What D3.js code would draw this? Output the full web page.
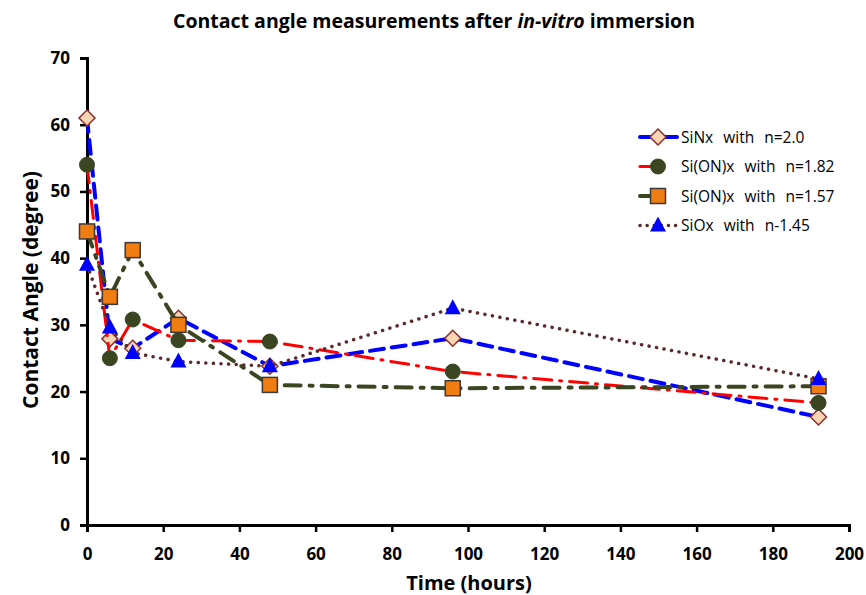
<!DOCTYPE html>
<html lang="en">
<head>
<meta charset="UTF-8">
<title>Contact angle</title>
<script src="https://d3js.org/d3.v7.min.js"></script>
<style>
  body { margin: 0; background: #fff; }
  svg text { font-family: "Open Sans", "Noto Sans", sans-serif; }
  .tick text { font-size: 17px; font-weight: bold; fill: #000; }
  .leg text { font-size: 15.5px; white-space: pre; word-spacing: 1px; }
</style>
</head>
<body>
<svg id="chart" width="866" height="595"></svg>
<script>
// data (hours vs. contact angle, degree)
const hours = [0, 6, 12, 24, 48, 96, 192];
const siNx   = [61, 27.9, 26.5, 31, 23.8, 28, 16.2];
const siON182 = [54, 25, 30.8, 27.7, 27.5, 23, 18.3];
const siON157 = [44, 34.2, 41.2, 30, 21, 20.5, 20.8];
const siOx   = [39, 29.6, 25.8, 24.5, 23.8, 32.5, 21.9];
const xTicks = [0, 20, 40, 60, 80, 100, 120, 140, 160, 180, 200];
const yTicks = [0, 10, 20, 30, 40, 50, 60, 70];
const names = ["SiNx  with  n=2.0", "Si(ON)x  with  n=1.82", "Si(ON)x  with  n=1.57", "SiOx  with  n-1.45"];

const svg = d3.select("#chart");
const x = d3.scaleLinear().domain([0, 200]).range([87, 849]);
const y = d3.scaleLinear().domain([0, 70]).range([525, 58]);

// series styles
const series = [
  { vals: siNx, stroke: "#0000ff", width: 4, dash: "14,8", marker: "diamond", fill: "#fcd5b4", mstroke: "#8b2f2f" },
  { vals: siON182, stroke: "#ff0000", width: 3, dash: "18,8,2,8", marker: "circle", fill: "#3a4521", mstroke: "#3a4521" },
  { vals: siON157, stroke: "#3a4521", width: 4, dash: "16,9,3,9", marker: "square", fill: "#f07d12", mstroke: "#3a3a3a" },
  { vals: siOx, stroke: "#5c2a2a", width: 3.5, dash: "0.1,7.5", marker: "triangle", fill: "#0000ff", mstroke: "#0000ff" }
];

// axes
const xAxis = svg.append("g").attr("transform", "translate(0,525)")
  .call(d3.axisBottom(x).tickValues(xTicks).tickSize(7).tickPadding(14));
const yAxis = svg.append("g").attr("transform", "translate(87,0)")
  .call(d3.axisLeft(y).tickValues(yTicks).tickSize(7).tickPadding(10));
[xAxis, yAxis].forEach(a => {
  a.select(".domain").attr("stroke", "#000").attr("stroke-width", 3);
  a.selectAll(".tick line").attr("stroke", "#000").attr("stroke-width", 2.5);
});
xAxis.selectAll(".tick text").attr("dy", "0.85em");

function drawMarker(g, type, cx, cy, s) {
  if (type === "circle") {
    g.append("circle").attr("cx", cx).attr("cy", cy).attr("r", 7.5)
      .attr("fill", s.fill).attr("stroke", s.mstroke).attr("stroke-width", 1);
  } else if (type === "square") {
    g.append("rect").attr("x", cx - 7.5).attr("y", cy - 7.5).attr("width", 15).attr("height", 15)
      .attr("fill", s.fill).attr("stroke", s.mstroke).attr("stroke-width", 1.5);
  } else if (type === "diamond") {
    g.append("path").attr("d", `M${cx},${cy - 8}L${cx + 8},${cy}L${cx},${cy + 8}L${cx - 8},${cy}Z`)
      .attr("fill", s.fill).attr("stroke", s.mstroke).attr("stroke-width", 1.5);
  } else {
    g.append("path").attr("d", `M${cx},${cy - 9}L${cx + 8},${cy + 6}L${cx - 8},${cy + 6}Z`)
      .attr("fill", s.fill);
  }
}

const line = d3.line().x(d => x(d[0])).y(d => y(d[1]));
series.forEach(s => {
  const pts = hours.map((h, i) => [h, s.vals[i]]);
  const g = svg.append("g");
  g.append("path").datum(pts).attr("d", line).attr("fill", "none")
    .attr("stroke", s.stroke).attr("stroke-width", s.width)
    .attr("stroke-dasharray", s.dash).attr("stroke-linecap", "round");
  pts.forEach(p => drawMarker(g, s.marker, x(p[0]), y(p[1]), s));
});

// legend
const legDash = ["15,8", "14,40", "13,10,1,20", "0.1,7"];
const leg = svg.append("g").attr("class", "leg");
series.forEach((s, i) => {
  const ly = 137 + i * 29.5;
  const g = leg.append("g");
  g.append("line").attr("x1", 640).attr("x2", 677).attr("y1", ly).attr("y2", ly)
    .attr("stroke", s.stroke).attr("stroke-width", s.width)
    .attr("stroke-dasharray", legDash[i])
    .attr("stroke-linecap", "round");
  drawMarker(g, s.marker, 658, ly, s);
  g.append("text").attr("x", 681).attr("y", ly + 5.5).attr("fill", "#000").text(names[i]);
});

// titles
const title = svg.append("text").attr("x", 434).attr("y", 28).attr("text-anchor", "middle")
  .attr("font-size", 19.5).attr("font-weight", "bold");
title.append("tspan").text("Contact angle measurements after ");
title.append("tspan").attr("font-style", "italic").text("in-vitro");
title.append("tspan").text(" immersion");

svg.append("text").attr("x", 469).attr("y", 590).attr("text-anchor", "middle")
  .attr("font-size", 20).attr("font-weight", "bold").text("Time (hours)");
svg.append("text").attr("transform", "translate(38,290) rotate(-90)").attr("text-anchor", "middle")
  .attr("font-size", 21).attr("font-weight", "bold").text("Contact Angle (degree)");
</script>
</body>
</html>
